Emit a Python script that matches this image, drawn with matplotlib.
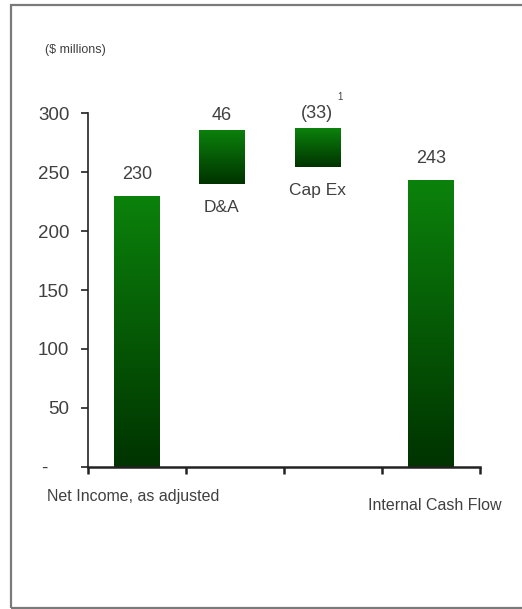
import matplotlib.pyplot as plt
import numpy as np
from matplotlib.colors import LinearSegmentedColormap
from matplotlib.patches import Rectangle

plt.rcParams["font.family"] = ["Liberation Sans", "DejaVu Sans"]

TEXT = "#404040"

# Cash-flow bridge, $ millions
categories = ["Net Income, as adjusted", "D&A", "Cap Ex", "Internal Cash Flow"]
values = [230, 46, 33, 243]
value_labels = ["230", "46", "(33)", "243"]
# floating bars start where they sit on the chart; totals start at zero
bases = [0, 240, 254, 0]
positions = [0.0, 0.86, 1.84, 3.0]
y_ticks = [0, 50, 100, 150, 200, 250, 300]
y_tick_labels = ["-    ", "50", "100", "150", "200", "250", "300"]

green = LinearSegmentedColormap.from_list("bar_green", ["#003300", "#0b820b"])

fig = plt.figure(figsize=(5.22, 6.09), dpi=100)
ax = fig.add_axes([0.1686, 0.2332, 0.751, 0.5812])

gradient = np.linspace(0, 1, 256).reshape(-1, 1)
bars = ax.bar(positions, values, bottom=bases, width=0.46, color="none",
              edgecolor="none", zorder=2)
for bar in bars:
    x0, y0 = bar.get_x(), bar.get_y()
    w, h = bar.get_width(), bar.get_height()
    im = ax.imshow(gradient, cmap=green, origin="lower", aspect="auto",
                   extent=[x0, x0 + w, y0, y0 + h], zorder=2)
    im.set_clip_path(bar)

for x, b, v, lab in zip(positions, bases, values, value_labels):
    gap = 11 if b == 0 else 5
    ax.text(x, b + v + gap, lab, ha="center", va="bottom", fontsize=13,
            color=TEXT, clip_on=False)
# footnote marker on the capex label
ax.text(positions[2] + 0.235, bases[2] + values[2] + 27, "1", fontsize=7,
        color=TEXT, ha="center", va="center", clip_on=False)

ax.text(positions[1], bases[1] - 20, categories[1], ha="center", va="center",
        fontsize=12.5, color=TEXT)
ax.text(positions[2], bases[2] - 20, categories[2], ha="center", va="center",
        fontsize=12.5, color=TEXT)

ax.set_xlim(-0.5, 3.5)
ax.set_ylim(0, 300)
ax.set_xticks([-0.5, 0.5, 1.5, 2.5, 3.5])
ax.set_xticklabels([])
ax.set_yticks(y_ticks)
ax.set_yticklabels(y_tick_labels, fontsize=13.5, color=TEXT)
ax.tick_params(axis="y", length=5, width=1.2, pad=8.5, colors="#222222",
               labelcolor=TEXT)
ax.tick_params(axis="x", length=5, width=1.8, direction="out", colors="#222222")
for side in ("top", "right"):
    ax.spines[side].set_visible(False)
ax.spines["left"].set_linewidth(1.2)
ax.spines["bottom"].set_linewidth(1.8)
ax.spines["left"].set_color("#222222")
ax.spines["bottom"].set_color("#222222")

fig.text(47 / 522, 1 - 497 / 609, categories[0], fontsize=11.5, color=TEXT,
         ha="left", va="center")
fig.text(501 / 522, 1 - 505 / 609, categories[3], fontsize=11.5, color=TEXT,
         ha="right", va="center")
fig.text(45 / 522, 1 - 50 / 609, "($ millions)", fontsize=9, color=TEXT,
         ha="left", va="center")

# outer frame of the slide panel
fig.add_artist(Rectangle((11 / 522, 1 / 609), 1.1, 603 / 609,
                         transform=fig.transFigure, fill=False,
                         edgecolor="#7a7a7a", linewidth=1.6))

fig.savefig("out.png", dpi=100)
